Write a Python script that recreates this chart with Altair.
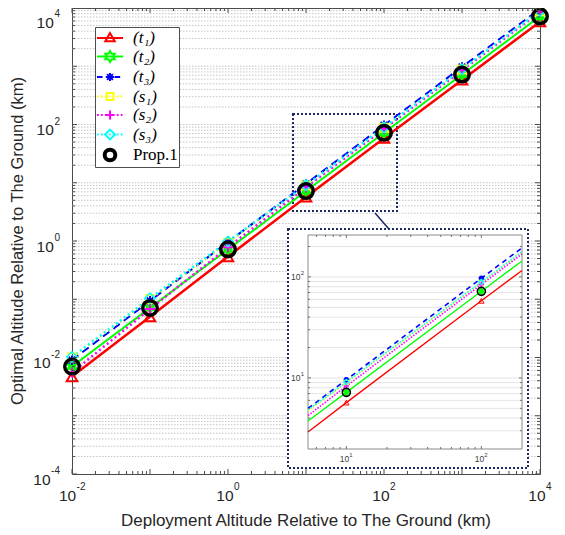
import math
import altair as alt
import pandas as pd

# ---------------- values ----------------
X_VALS = [0.01, 0.1, 1, 10, 100, 1000, 10000]
SERIES = ["(t₁)", "(t₂)", "(t₃)", "(s₁)", "(s₂)", "(s₃)", "Prop.1"]
T1 = [0.0047, 0.050, 0.54, 5.7, 58, 580, 5800]
T2 = [0.0070, 0.071, 0.72, 7.2, 72, 720, 7200]
T3 = [0.0090, 0.094, 0.96, 9.6, 97, 970, 9700]
S1 = [0.0100, 0.100, 0.93, 9.0, 88, 880, 8800]
S2 = [0.0055, 0.068, 0.78, 8.3, 84, 850, 8500]
S3 = [0.0102, 0.104, 0.98, 9.1, 89, 890, 8900]
P1 = [0.0070, 0.071, 0.72, 7.2, 72, 720, 7200]
VALUES = [T1, T2, T3, S1, S2, S3, P1]

X_TITLE = "Deployment Altitude Relative to The Ground (km)"
Y_TITLE = "Optimal Altitude Relative to The Ground (km)"
X_LABEL_EXP = [-2, 0, 2, 4]
Y_LABEL_EXP = [-4, -2, 0, 2, 4]
INSET_X_DOMAIN = [5.2, 200]
INSET_Y_DOMAIN = [1.98, 260]
INSET_LABEL_EXP = [1, 2]

# ---------------- layout / style ----------------
W, H = 468, 466
IN_L, IN_R, IN_T, IN_B = 236, 450, 227, 441
OUT_L, OUT_R, OUT_T, OUT_B = 216, 456, 221, 460
ZR_L, ZR_R, ZR_T, ZR_B = 221, 325, 106, 203
AR_X0, AR_Y0, AR_X1, AR_Y1 = 303, 205, 326, 232
LEG_X, LEG_Y = 23, 19
SANS = "Liberation Sans"
SERIF = "Liberation Serif"
TXT = "#262626"
NAVY = "#1b2a63"
RED, GREEN, BLUE = "#ff0000", "#00ff00", "#0000ff"
YEL, MAG, CYAN = "#ffff00", "#ff00ff", "#00ffff"
COLORS = [RED, GREEN, BLUE, YEL, MAG, CYAN, "#000000"]

XS = alt.Scale(type="log", domain=[0.01, 10000], nice=False)
YS = alt.Scale(type="log", domain=[1e-4, 1e4], nice=False)
XI = alt.Scale(type="log", domain=INSET_X_DOMAIN, range=[IN_L, IN_R], nice=False)
YI = alt.Scale(type="log", domain=INSET_Y_DOMAIN, range=[IN_B, IN_T], nice=False)


def hexagram(R):
    pts = []
    for k in range(12):
        a = math.radians(-90 + 30 * k)
        r = R if k % 2 == 0 else R / math.sqrt(3)
        pts.append(f"{r*math.cos(a):.3f},{r*math.sin(a):.3f}")
    return "M" + "L".join(pts) + "Z"


def asterisk(r):
    d = r * 0.72
    return (f"M{-r},0L{r},0M0,{-r}L0,{r}"
            f"M{-d},{-d}L{d},{d}M{-d},{d}L{d},{-d}")


def plus(r):
    return f"M{-r},0L{r},0M0,{-r}L0,{r}"


def tri(r):
    return f"M0,{-r}L{0.95*r},{0.65*r}L{-0.95*r},{0.65*r}Z"


def square(r):
    return f"M{-r},{-r}L{r},{-r}L{r},{r}L{-r},{r}Z"


def diamond(r):
    return f"M{-r},0L0,{-r}L{r},0L0,{r}Z"


def circ(r):
    return f"M{r},0A{r},{r} 0 1,1 {-r},0A{r},{r} 0 1,1 {r},0"


def segs(seg, gap, x0=-1.45, x1=1.45):
    out, x = [], x0
    while x < x1 - 1e-6:
        e = min(x + seg, x1)
        out.append(f"M{x:.3f},0L{e:.3f},0")
        x = e + gap
    return "".join(out)


SOLID = "M-1.45,0L1.45,0"
LEG_PATHS = [
    SOLID + tri(0.55),
    SOLID + hexagram(0.6),
    segs(0.62, 0.36) + asterisk(0.45),
    segs(0.2, 0.24) + square(0.38),
    segs(0.2, 0.24) + plus(0.5),
    segs(0.2, 0.24) + diamond(0.55),
    circ(0.48) + circ(0.6) + circ(0.7),
]

MAIN_STYLE = {
    "(t₁)": dict(lw=2.5, dash=None, shape="triangle-up", size=110, mlw=2.0, fill=False),
    "(t₂)": dict(lw=2.0, dash=None, shape=hexagram(1), size=130, mlw=1.2, fill=True),
    "(t₃)": dict(lw=2.0, dash=[8, 5], shape=asterisk(1), size=90, mlw=2.0, fill=False),
    "(s₁)": dict(lw=2.0, dash=[2, 3], shape="square", size=70, mlw=1.5, fill=False),
    "(s₂)": dict(lw=2.5, dash=[2, 3], shape=plus(1), size=100, mlw=2.0, fill=False),
    "(s₃)": dict(lw=2.5, dash=[2, 3], shape="diamond", size=110, mlw=1.5, fill=False),
    "Prop.1": dict(lw=None, dash=None, shape="circle", size=210, mlw=3.5, fill=False),
}
INSET_STYLE = {
    "(t₁)": dict(lw=1.3, dash=None, shape="triangle-up", size=30, mlw=1.0, fill=False),
    "(t₂)": dict(lw=1.3, dash=None, shape=hexagram(1), size=50, mlw=1.0, fill=True),
    "(t₃)": dict(lw=1.6, dash=[5, 4], shape=asterisk(1), size=30, mlw=1.8, fill=False),
    "(s₁)": dict(lw=1.6, dash=[1.5, 1.5], shape="square", size=20, mlw=1.2, fill=False),
    "(s₂)": dict(lw=1.6, dash=[1.5, 1.5], shape=plus(1), size=30, mlw=1.5, fill=False),
    "(s₃)": dict(lw=1.6, dash=[1.5, 1.5], shape="diamond", size=30, mlw=1.2, fill=False),
    "Prop.1": dict(lw=None, dash=None, shape="circle", size=64, mlw=1.6, fill=False),
}
COLOR_OF = dict(zip(SERIES, COLORS))

# ---------------- tables ----------------
main_df = pd.DataFrame(
    [{"series": s, "x": x, "y": y} for s, vals in zip(SERIES, VALUES)
     for x, y in zip(X_VALS, vals)]
)


def clip_loglog(xs, ys, lo, hi):
    """Clip the drawn polyline (straight in log-log) to [lo, hi] in x."""
    lx = [math.log10(v) for v in xs]
    ly = [math.log10(v) for v in ys]
    llo, lhi = math.log10(lo), math.log10(hi)
    pts = []
    for i in range(len(lx) - 1):
        a, b = lx[i], lx[i + 1]
        s0, s1 = max(a, llo), min(b, lhi)
        if s0 >= s1:
            continue
        f = lambda t: ly[i] + (ly[i + 1] - ly[i]) * (t - a) / (b - a)
        for t in (s0, s1):
            p = (10 ** t, 10 ** f(t))
            if not pts or abs(pts[-1][0] - p[0]) > 1e-9:
                pts.append(p)
    return pts


inset_line_df = pd.DataFrame(
    [{"series": s, "x": x, "y": y} for s, vals in zip(SERIES, VALUES)
     for x, y in clip_loglog(X_VALS, vals, *INSET_X_DOMAIN)]
)
inset_pt_df = main_df[(main_df.x >= INSET_X_DOMAIN[0]) & (main_df.x <= INSET_X_DOMAIN[1])]

MAJ_X = [10.0 ** e for e in range(-2, 5)]
MIN_X = [k * 10.0 ** e for e in range(-2, 4) for k in range(2, 10)]
MAJ_Y = [10.0 ** e for e in range(-4, 5)]
MIN_Y = [k * 10.0 ** e for e in range(-4, 4) for k in range(2, 10)]
GRID_Y = MAJ_Y[1:-1] + MIN_Y
IN_MAJ = [10.0, 100.0]
IN_MIN_X = [6, 7, 8, 9, 20, 30, 40, 50, 60, 70, 80, 90]
IN_MIN_Y = [3, 4, 5, 6, 7, 8, 9, 20, 30, 40, 50, 60, 70, 80, 90, 200]
IN_GRID_Y = IN_MIN_Y[:7] + [10] + IN_MIN_Y[7:15] + [100, 200]

ONE = pd.DataFrame({"k": [0]})
layers = []


def vals_df(v):
    return pd.DataFrame({"v": list(v)})


# main y grid (dotted)
layers.append(
    alt.Chart(vals_df(GRID_Y)).mark_rule(color="#c4c4c4", strokeDash=[1.5, 1.5], strokeWidth=1)
    .encode(x=alt.value(0), x2=alt.value(W), y=alt.Y("v:Q", scale=YS, axis=None))
)

# zoom rectangle in the main plot
layers.append(
    alt.Chart(ONE).mark_rect(fillOpacity=0, stroke=NAVY, strokeWidth=2, strokeDash=[2, 2])
    .encode(x=alt.value(ZR_L), x2=alt.value(ZR_R), y=alt.value(ZR_T), y2=alt.value(ZR_B))
)

# main lines and markers
for s in SERIES:
    st = MAIN_STYLE[s]
    if st["lw"] is None:
        continue
    kw = dict(color=COLOR_OF[s], strokeWidth=st["lw"])
    if st["dash"]:
        kw["strokeDash"] = st["dash"]
    layers.append(
        alt.Chart(main_df).transform_filter(alt.datum.series == s).mark_line(**kw)
        .encode(x=alt.X("x:Q", scale=XS, axis=None), y=alt.Y("y:Q", scale=YS, axis=None))
    )
for s in SERIES:
    st = MAIN_STYLE[s]
    layers.append(
        alt.Chart(main_df).transform_filter(alt.datum.series == s)
        .mark_point(shape=st["shape"], size=st["size"], strokeWidth=st["mlw"], opacity=1,
                    filled=st["fill"], color=COLOR_OF[s], stroke=COLOR_OF[s])
        .encode(x=alt.X("x:Q", scale=XS, axis=None), y=alt.Y("y:Q", scale=YS, axis=None))
    )

# arrow
layers.append(
    alt.Chart(ONE).mark_rule(color=NAVY, strokeWidth=1.5)
    .encode(x=alt.value(AR_X0), y=alt.value(AR_Y0), x2=alt.value(AR_X1 - 3), y2=alt.value(AR_Y1 - 4))
)
layers.append(
    alt.Chart(ONE).mark_point(shape="triangle-right", filled=True, color=NAVY, size=45, opacity=1,
                              angle=math.degrees(math.atan2(AR_Y1 - AR_Y0, AR_X1 - AR_X0)))
    .encode(x=alt.value(AR_X1 - 3), y=alt.value(AR_Y1 - 4))
)

# inset frame and background
layers.append(
    alt.Chart(ONE).mark_rect(fill="white", stroke=NAVY, strokeWidth=2, strokeDash=[2, 2])
    .encode(x=alt.value(OUT_L), x2=alt.value(OUT_R), y=alt.value(OUT_T), y2=alt.value(OUT_B))
)
layers.append(
    alt.Chart(ONE).mark_rect(fill="white", stroke="#8a8a8a", strokeWidth=1)
    .encode(x=alt.value(IN_L), x2=alt.value(IN_R), y=alt.value(IN_T), y2=alt.value(IN_B))
)
layers.append(
    alt.Chart(vals_df(IN_GRID_Y)).mark_rule(color="#e4e4e4", strokeWidth=1)
    .encode(x=alt.value(IN_L + 1), x2=alt.value(IN_R - 1), y=alt.Y("v:Q", scale=YI, axis=None))
)

# inset lines and markers
for s in SERIES:
    st = INSET_STYLE[s]
    if st["lw"] is None:
        continue
    kw = dict(color=COLOR_OF[s], strokeWidth=st["lw"])
    if st["dash"]:
        kw["strokeDash"] = st["dash"]
    layers.append(
        alt.Chart(inset_line_df).transform_filter(alt.datum.series == s).mark_line(**kw)
        .encode(x=alt.X("x:Q", scale=XI, axis=None), y=alt.Y("y:Q", scale=YI, axis=None))
    )
for s in SERIES:
    st = INSET_STYLE[s]
    layers.append(
        alt.Chart(inset_pt_df).transform_filter(alt.datum.series == s)
        .mark_point(shape=st["shape"], size=st["size"], strokeWidth=st["mlw"], opacity=1,
                    filled=st["fill"], color=COLOR_OF[s], stroke=COLOR_OF[s])
        .encode(x=alt.X("x:Q", scale=XI, axis=None), y=alt.Y("y:Q", scale=YI, axis=None))
    )

# inset ticks
for vals, ln in ((IN_MAJ, 3), (IN_MIN_X, 2)):
    for y0, y1 in ((IN_B, IN_B - ln), (IN_T, IN_T + ln)):
        layers.append(
            alt.Chart(vals_df(vals)).mark_rule(color="#707070", strokeWidth=1)
            .encode(x=alt.X("v:Q", scale=XI, axis=None), y=alt.value(y0), y2=alt.value(y1))
        )
for vals, ln in ((IN_MAJ, 3), (IN_MIN_Y, 2)):
    for x0, x1 in ((IN_L, IN_L + ln), (IN_R, IN_R - ln)):
        layers.append(
            alt.Chart(vals_df(vals)).mark_rule(color="#707070", strokeWidth=1)
            .encode(y=alt.Y("v:Q", scale=YI, axis=None), x=alt.value(x0), x2=alt.value(x1))
        )

# inset tick labels
in_lab = pd.DataFrame({"v": [10.0 ** e for e in INSET_LABEL_EXP], "e": [str(e) for e in INSET_LABEL_EXP]})
layers.append(
    alt.Chart(in_lab).mark_text(text="10", align="right", dx=2.8, baseline="alphabetic",
                                font=SANS, fontSize=8.5, color="#404040")
    .encode(x=alt.X("v:Q", scale=XI, axis=None), y=alt.value(IN_B + 13))
)
layers.append(
    alt.Chart(in_lab).mark_text(align="left", dx=3.0, baseline="alphabetic",
                                font=SANS, fontSize=6, color="#404040")
    .encode(x=alt.X("v:Q", scale=XI, axis=None), y=alt.value(IN_B + 8), text="e:N")
)
layers.append(
    alt.Chart(in_lab).mark_text(text="10", align="right", dy=3, baseline="alphabetic",
                                font=SANS, fontSize=8.5, color="#404040")
    .encode(y=alt.Y("v:Q", scale=YI, axis=None), x=alt.value(IN_L - 7.5))
)
layers.append(
    alt.Chart(in_lab).mark_text(align="right", dy=-2, baseline="alphabetic",
                                font=SANS, fontSize=6, color="#404040")
    .encode(y=alt.Y("v:Q", scale=YI, axis=None), x=alt.value(IN_L - 4), text="e:N")
)

# main ticks (inward, on all four sides)
for vals, ln in ((MAJ_X, 5), (MIN_X, 3)):
    for y0, y1 in ((H, H - ln), (0, ln)):
        layers.append(
            alt.Chart(vals_df(vals)).mark_rule(color="#4a4a4a", strokeWidth=1)
            .encode(x=alt.X("v:Q", scale=XS, axis=None), y=alt.value(y0), y2=alt.value(y1))
        )
for vals, ln in ((MAJ_Y, 5), (MIN_Y, 3)):
    for x0, x1 in ((0, ln), (W, W - ln)):
        layers.append(
            alt.Chart(vals_df(vals)).mark_rule(color="#4a4a4a", strokeWidth=1)
            .encode(y=alt.Y("v:Q", scale=YS, axis=None), x=alt.value(x0), x2=alt.value(x1))
        )

# main tick labels: "10" plus a raised exponent
for neg in (True, False):
    ex = [e for e in X_LABEL_EXP if (e < 0) == neg]
    d = pd.DataFrame({"v": [10.0 ** e for e in ex], "e": [str(e) for e in ex]})
    dx = 4.2 if neg else 5.6
    layers.append(
        alt.Chart(d).mark_text(text="10", align="right", dx=dx, baseline="alphabetic",
                               font=SANS, fontSize=15.5, color=TXT)
        .encode(x=alt.X("v:Q", scale=XS, axis=None), y=alt.value(H + 26.5))
    )
    layers.append(
        alt.Chart(d).mark_text(align="left", dx=dx + 0.4, baseline="alphabetic",
                               font=SANS, fontSize=10, color=TXT)
        .encode(x=alt.X("v:Q", scale=XS, axis=None), y=alt.value(H + 16), text="e:N")
    )
for e in Y_LABEL_EXP:
    d = pd.DataFrame({"v": [10.0 ** e], "e": [str(e)]})
    ew = 9.0 if e < 0 else 5.8
    shift = 9 if e == Y_LABEL_EXP[-1] else 0  # keep the top label inside the page
    layers.append(
        alt.Chart(d).mark_text(text="10", align="right", dy=10.5 + shift, baseline="alphabetic",
                               font=SANS, fontSize=15.5, color=TXT)
        .encode(y=alt.Y("v:Q", scale=YS, axis=None), x=alt.value(-12 - ew - 0.4))
    )
    layers.append(
        alt.Chart(d).mark_text(align="right", dy=0 + shift, baseline="alphabetic",
                               font=SANS, fontSize=10, color=TXT)
        .encode(y=alt.Y("v:Q", scale=YS, axis=None), x=alt.value(-12), text="e:N")
    )

# axis titles
layers.append(
    alt.Chart(ONE).mark_text(text=X_TITLE, font=SANS, fontSize=17, color=TXT, baseline="middle")
    .encode(x=alt.value(W / 2), y=alt.value(H + 47))
)
layers.append(
    alt.Chart(ONE).mark_text(text=Y_TITLE, font=SANS, fontSize=16.5, color=TXT, baseline="middle", angle=270)
    .encode(x=alt.value(-54.5), y=alt.value(H / 2))
)

# legend (built from the series scale; no visible marks of its own)
LEG = alt.Legend(
    title=None, orient="none", legendX=LEG_X, legendY=LEG_Y, padding=1, rowPadding=0.5,
    symbolOffset=4, labelOffset=13, symbolSize=324, symbolStrokeWidth=2,
    strokeColor="#4d4d4d", fillColor="white", labelFont=SERIF, labelFontSize=17,
    labelColor="black", labelLimit=200, labelBaseline="middle",
    labelFontStyle={"expr": "datum.label == 'Prop.1' ? 'normal' : 'italic'"},
)
layers.append(
    alt.Chart(main_df).transform_filter("datum.x < 0").mark_point(opacity=1, filled=False)
    .encode(
        color=alt.Color("series:N", scale=alt.Scale(domain=SERIES, range=COLORS), legend=LEG),
        shape=alt.Shape("series:N", scale=alt.Scale(domain=SERIES, range=LEG_PATHS), legend=LEG),
    )
)

chart = (
    alt.layer(*layers)
    .resolve_scale(x="independent", y="independent")
    .properties(width=W, height=H, padding={"left": 64, "top": 0, "right": 17, "bottom": 56},
                autosize=alt.AutoSizeParams(type="none"))
    .configure_view(stroke="#4a4a4a", strokeWidth=1)
)
chart.save("out.html", embed_options={"renderer": "svg", "actions": False})
